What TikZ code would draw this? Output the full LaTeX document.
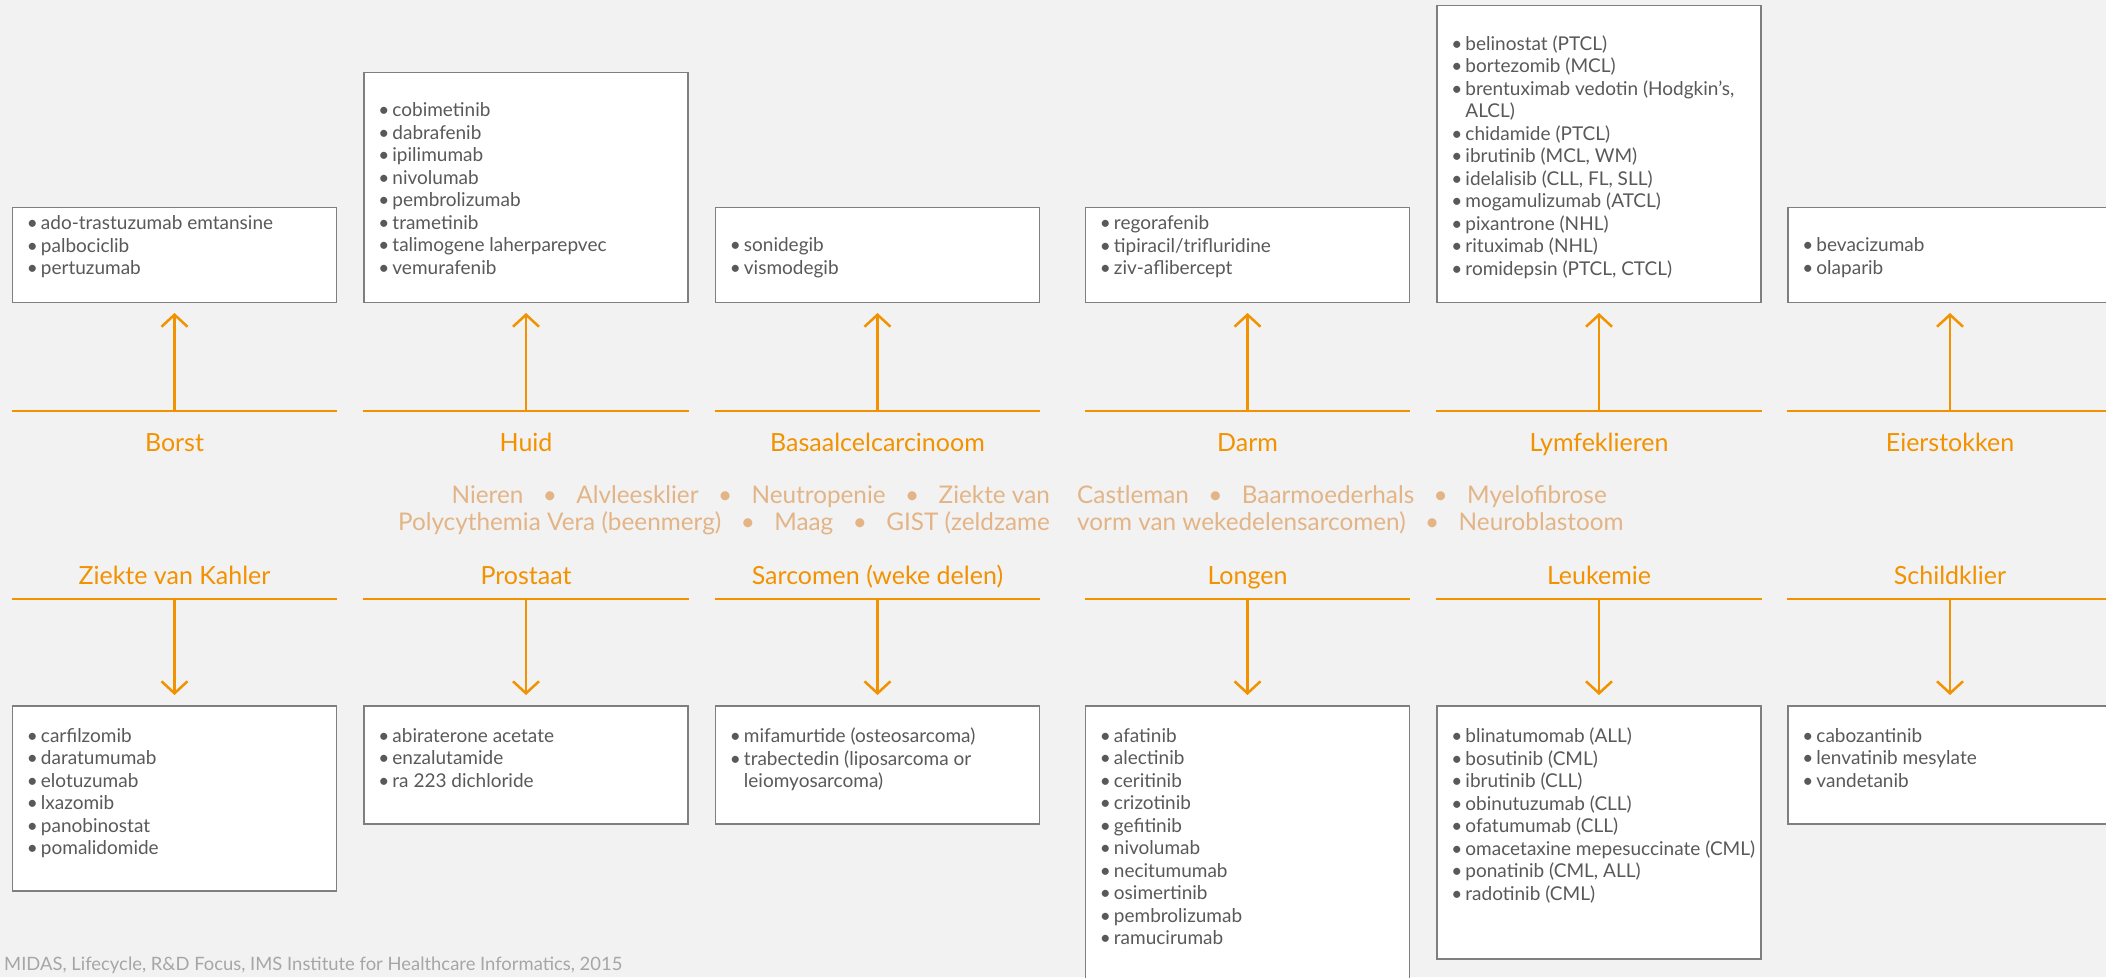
\documentclass[tikz,border=0pt]{standalone}
\usepackage{fontspec}
\setmainfont{Lato}
\usetikzlibrary{arrows.meta,positioning}
\definecolor{oranje}{HTML}{F39200}
\definecolor{zand}{HTML}{E3B486}
\definecolor{boxgrey}{HTML}{7F7F7F}
\definecolor{drugtext}{HTML}{595959}
\definecolor{sourcegrey}{HTML}{A6A6A6}
\definecolor{backdrop}{HTML}{F2F2F2}
\newcommand{\bul}{\makebox[14pt][l]{\textbullet}}
\newcommand{\ins}{\hspace*{14pt}}
\newcommand{\midsep}{\hspace{0.8em}\textbullet\hspace{0.8em}\ignorespaces}

\begin{document}
\begin{tikzpicture}[x=1pt, y=-1pt,
    drugbox/.style={draw=boxgrey, fill=white, line width=1.5pt, minimum width=324pt, inner sep=0pt},
    druglist/.style={align=left, inner sep=0pt, text=drugtext, font=\fontsize{19}{22.5}\selectfont},
    organ/.style={text=oranje, inner sep=0pt, anchor=base, font=\fontsize{25}{30}\selectfont},
    organbar/.style={draw=oranje, line width=2.5pt},
    pointer/.style={draw=oranje, line width=2.5pt, -{Straight Barb[length=12pt,width=26pt]}, shorten >=10pt},
    others/.style={text=zand, inner sep=0pt, font=\fontsize{24.3}{27}\selectfont},
    source/.style={text=sourcegrey, inner sep=0pt, font=\fontsize{18.4}{22}\selectfont}]
   \fill[backdrop] (0,0) rectangle (2106,977);
   \useasboundingbox (0,0) rectangle (2106,977);

   % bovenste rij
   \node[drugbox, minimum height=95pt,  anchor=south] (borst)  at (174.5,303)  {};
   \node[drugbox, minimum height=230pt, anchor=south] (huid)   at (526,303)    {};
   \node[drugbox, minimum height=95pt,  anchor=south] (basaal) at (877.5,303)  {};
   \node[drugbox, minimum height=95pt,  anchor=south] (darm)   at (1247.5,303) {};
   \node[drugbox, minimum height=297pt, anchor=south] (lymf)   at (1599,303)   {};
   \node[drugbox, minimum height=95pt,  anchor=south] (eier)   at (1950,303)   {};

   \node[druglist, below right=9pt and 15pt of borst.north west] (borst-lijst)
     {\bul ado-trastuzumab emtansine\\ \bul palbociclib\\ \bul pertuzumab};
   \node[druglist, below right=31pt and 15pt of huid.north west] (huid-lijst)
     {\bul cobimetinib\\ \bul dabrafenib\\ \bul ipilimumab\\ \bul nivolumab\\ \bul pembrolizumab\\
      \bul trametinib\\ \bul talimogene laherparepvec\\ \bul vemurafenib};
   \node[druglist, below right=31pt and 15pt of basaal.north west] (basaal-lijst)
     {\bul sonidegib\\ \bul vismodegib};
   \node[druglist, below right=9pt and 15pt of darm.north west] (darm-lijst)
     {\bul regorafenib\\ \bul tipiracil/trifluridine\\ \bul ziv-aflibercept};
   \node[druglist, below right=31pt and 15pt of lymf.north west] (lymf-lijst)
     {\bul belinostat (PTCL)\\ \bul bortezomib (MCL)\\ \bul brentuximab vedotin (Hodgkin’s,\\ \ins ALCL)\\
      \bul chidamide (PTCL)\\ \bul ibrutinib (MCL, WM)\\ \bul idelalisib (CLL, FL, SLL)\\
      \bul mogamulizumab (ATCL)\\ \bul pixantrone (NHL)\\ \bul rituximab (NHL)\\ \bul romidepsin (PTCL, CTCL)};
   \node[druglist, below right=31pt and 15pt of eier.north west] (eier-lijst)
     {\bul bevacizumab\\ \bul olaparib};

   % onderste rij
   \node[drugbox, minimum height=185pt, anchor=north] (kahler)    at (174.5,705)  {};
   \node[drugbox, minimum height=118pt, anchor=north] (prostaat)  at (526,705)    {};
   \node[drugbox, minimum height=118pt, anchor=north] (sarcomen)  at (877.5,705)  {};
   \node[drugbox, minimum height=300pt, anchor=north] (longen)    at (1247.5,705) {};
   \node[drugbox, minimum height=253pt, anchor=north] (leukemie)  at (1599,705)   {};
   \node[drugbox, minimum height=118pt, anchor=north] (schildklier) at (1950,705) {};

   \node[druglist, below right=23pt and 15pt of kahler.north west] (kahler-lijst)
     {\bul carfilzomib\\ \bul daratumumab\\ \bul elotuzumab\\ \bul lxazomib\\ \bul panobinostat\\ \bul pomalidomide};
   \node[druglist, below right=23pt and 15pt of prostaat.north west] (prostaat-lijst)
     {\bul abiraterone acetate\\ \bul enzalutamide\\ \bul ra 223 dichloride};
   \node[druglist, below right=23pt and 15pt of sarcomen.north west] (sarcomen-lijst)
     {\bul mifamurtide (osteosarcoma)\\ \bul trabectedin (liposarcoma or\\ \ins leiomyosarcoma)};
   \node[druglist, below right=23pt and 15pt of longen.north west] (longen-lijst)
     {\bul afatinib\\ \bul alectinib\\ \bul ceritinib\\ \bul crizotinib\\ \bul gefitinib\\ \bul nivolumab\\
      \bul necitumumab\\ \bul osimertinib\\ \bul pembrolizumab\\ \bul ramucirumab};
   \node[druglist, below right=23pt and 15pt of leukemie.north west] (leukemie-lijst)
     {\bul blinatumomab (ALL)\\ \bul bosutinib (CML)\\ \bul ibrutinib (CLL)\\ \bul obinutuzumab (CLL)\\
      \bul ofatumumab (CLL)\\ \bul omacetaxine mepesuccinate (CML)\\ \bul ponatinib (CML, ALL)\\ \bul radotinib (CML)};
   \node[druglist, below right=23pt and 15pt of schildklier.north west] (schildklier-lijst)
     {\bul cabozantinib\\ \bul lenvatinib mesylate\\ \bul vandetanib};

   % balken, pijlen en organen
   \foreach \hi/\lo/\x/\hilab/\lolab in {borst/kahler/174.5/Borst/Ziekte van Kahler,
       huid/prostaat/526/Huid/Prostaat, basaal/sarcomen/877.5/Basaalcelcarcinoom/Sarcomen (weke delen),
       darm/longen/1247.5/Darm/Longen, lymf/leukemie/1599/Lymfeklieren/Leukemie,
       eier/schildklier/1950/Eierstokken/Schildklier}
   {
   \coordinate (\hi-bar) at (\x,411);
   \coordinate (\lo-bar) at (\x,599);
   \draw[organbar] (\hi.south west |- \hi-bar) -- (\hi.south east |- \hi-bar);
   \draw[organbar] (\lo.north west |- \lo-bar) -- (\lo.north east |- \lo-bar);
   \draw[pointer] (\hi-bar) -- (\hi);
   \draw[pointer] (\lo-bar) -- (\lo);
   \node[organ] (\hi-label) at (\x,451) {\hilab};
   \node[organ] (\lo-label) at (\x,584) {\lolab};
   }

   % overige indicaties
   \node[others, anchor=east, align=right] (overig-links) at (1050,510)
     {Nieren\midsep Alvleesklier\midsep Neutropenie\midsep Ziekte van\\
      Polycythemia Vera (beenmerg)\midsep Maag\midsep GIST (zeldzame};
   \node[others, anchor=west, align=left] (overig-rechts) at (1077,510)
     {Castleman\midsep Baarmoederhals\midsep Myelofibrose\\
      vorm van wekedelensarcomen)\midsep Neuroblastoom};

   \node[source, anchor=base west] (bron) at (4,970)
     {MIDAS, Lifecycle, R\&D Focus, IMS Institute for Healthcare Informatics, 2015};
 \end{tikzpicture}
\end{document}
